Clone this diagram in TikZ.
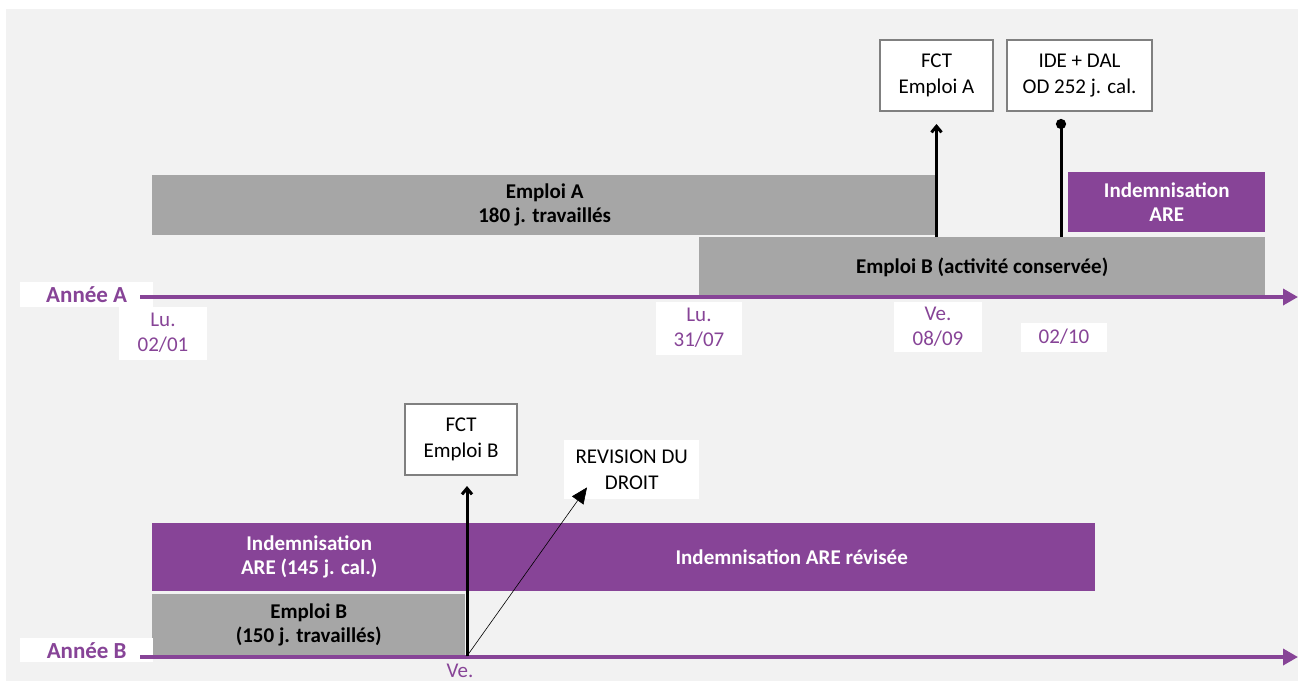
\documentclass[tikz,border=0pt]{standalone}
\usepackage{fontspec}
\setmainfont{Carlito}
\usepackage{xcolor}
\usepackage{tikz}
\usetikzlibrary{arrows.meta,positioning,calc}
\definecolor{bgGray}{HTML}{F2F2F2}
\definecolor{barGray}{HTML}{A6A6A6}
\definecolor{arePurple}{HTML}{874497}
\definecolor{frameGray}{HTML}{808080}
\tikzset{
	bar/.style={fill=barGray, anchor=north west, inner sep=0pt, align=center,
		font=\fontsize{21}{24}\selectfont\bfseries},
	purplebar/.style={bar, fill=arePurple, text=white},
	callout/.style={draw=frameGray, line width=2pt, fill=white, anchor=north west,
		inner sep=0pt, align=center, font=\fontsize{21}{26}\selectfont},
	datelabel/.style={fill=white, text=arePurple, inner sep=0pt, align=center,
		font=\fontsize{21}{25}\selectfont},
	yearlabel/.style={fill=white, text=arePurple, anchor=north west, inner sep=0pt,
		minimum width=133pt, minimum height=25pt, font=\fontsize{23}{26}\selectfont\bfseries},
	axis/.style={-{Triangle[length=15pt, width=16pt]}, arePurple, line width=3.5pt},
	arrow/.style={-{Straight Barb[length=6pt, width=10pt]}, line width=3pt},
	dotline/.style={-{Circle[length=10pt]}, line width=3pt}
}

\begin{document}
\begin{tikzpicture}[x=1pt, y=-1pt]
		
		\useasboundingbox (0,0) rectangle (1298,681);
		\fill[bgGray] (6,9) rectangle (1298,681);
		
		%% -- Annee A: bars
		\node[bar, minimum width=785pt, minimum height=60pt] (empA) at (152,175)
		{Emploi A\\180 j. travaillés};
		
		\node[bar, minimum width=566pt, minimum height=60pt] (empB) at (699,237)
		{Emploi B (activité conservée)};
		
		\node[purplebar, minimum width=197pt, minimum height=60pt] (areA) at (1068,172)
		{Indemnisation\\ARE};
		
		%% -- Annee A: callouts
		\node[callout, minimum width=113pt, minimum height=71pt] (fctA) at (879,39)
		{FCT\\Emploi A};
		
		\node[callout, minimum width=145pt, minimum height=71pt] (ide) at (1006,39)
		{IDE + DAL\\OD 252 j. cal.};
		
		%% -- Annee A: axis and dates
		\node[yearlabel] (yrA) at (20,282) {Année A};
		\coordinate (axA) at (140,297);
		\draw[axis] (axA) -- (1298,297);
		
		\node[datelabel, minimum width=88pt, minimum height=53pt] (d0201) at (163,333)
		{Lu.\\02/01};
		\node[datelabel, minimum width=86pt, minimum height=53pt] (d3107) at (699,328)
		{Lu.\\31/07};
		\node[datelabel, minimum width=88pt, minimum height=50pt] (d0809) at (938,327)
		{Ve.\\08/09};
		\node[datelabel, minimum width=86pt, minimum height=29pt] (d0210) at (1064,337)
		{02/10};
		
		%% -- Annee A: event markers
		\draw[arrow] (fctA |- empB.north) -- ($(fctA.south)+(0,12)$);
		\coordinate (ideDot) at (1061,119);
		\draw[dotline] (ideDot |- empB.north) -- (ideDot);
		
		%% -- Annee B: bars
		\node[purplebar, minimum width=314pt, minimum height=68pt] (are145) at (152,523)
		{Indemnisation\\ARE (145 j. cal.)};
		
		\node[purplebar, minimum width=629pt, minimum height=68pt] (areRev) at (466,523)
		{\hspace*{22pt}Indemnisation ARE révisée};
		
		\node[bar, minimum width=313pt, minimum height=62pt] (empB2) at (152,594)
		{Emploi B\\(150 j. travaillés)};
		
		%% -- Annee B: callouts
		\node[callout, minimum width=112pt, minimum height=71pt] (fctB) at (404,403)
		{FCT\\Emploi B};
		
		\node[fill=white, anchor=north west, inner sep=0pt, align=center,
		minimum width=135pt, minimum height=59pt,
		font=\fontsize{21}{26}\selectfont] (revB) at (564,440)
		{REVISION DU\\DROIT};
		
		%% -- Annee B: axis and date
		\node[yearlabel, minimum height=24pt] (yrB) at (20,638) {Année B};
		\coordinate (axB) at (140,657);
		\draw[axis] (axB) -- (1298,657);
		
		\node[datelabel, fill=none, anchor=north] (veB2) at (460,664) {Ve.};
		
		%% -- Annee B: event markers
		\coordinate (veB) at (467,656);
		\draw[arrow] (veB) -- ($(veB |- fctB.south)+(0,10)$);
		\draw[-{Triangle[length=16pt, width=14pt]}, line width=0.6pt, black]
		(veB) -- ($(revB.south west)+(23,-12)$);
		
	\end{tikzpicture}
\end{document}
